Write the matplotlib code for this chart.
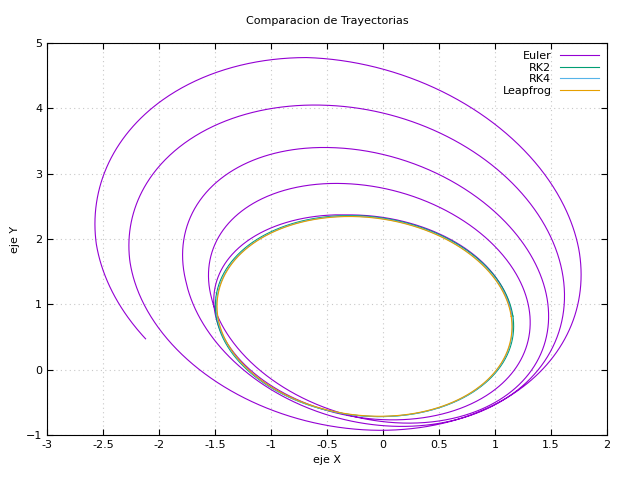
import numpy as np
import matplotlib
matplotlib.use("Agg")
import matplotlib.pyplot as plt

# Per-loop extents (Euler spiral, inner -> outer)
loop_left   = [-1.50, -1.53, -1.76, -2.26, -2.56]
loop_right  = [ 1.15,  1.30,  1.45,  1.60,  1.75]
loop_top    = [ 2.37,  2.85,  3.40,  4.05,  4.78]
loop_bottom = [-0.72, -0.77, -0.82, -0.87, -0.93]
loop_topx   = [-0.30, -0.35, -0.45, -0.52, -0.68]
euler_end_turn = 4.585   # ends near (-2, 0.25)

# Closed orbit (RK2, RK4, Leapfrog): left, right, top, bottom, x at top
orbit = {"RK2": (-1.49, 1.16, 2.36, -0.72, -0.30),
         "RK4": (-1.48, 1.15, 2.35, -0.72, -0.30),
         "Leapfrog": (-1.475, 1.145, 2.345, -0.715, -0.30)}
colors = {"Euler": "#9400D3", "RK2": "#009E73", "RK4": "#56B4E9", "Leapfrog": "#E69F00"}

def curve(f, L, R, T, B, TX):
    th = 2 * np.pi * f
    cx, cy = (L + R) / 2, (T + B) / 2
    a, b = (R - L) / 2, (T - B) / 2
    return cx + a * np.cos(th) + (TX - cx) * np.sin(th), cy + b * np.sin(th)

plt.rcParams['font.family'] = ['DejaVu Sans']
fig = plt.figure(figsize=(6.27, 4.8), dpi=100)
ax = fig.add_axes([0.075, 0.094, 0.893, 0.816])

f = np.linspace(0, euler_end_turn, 4000)
k = np.arange(5)
params = [np.interp(f, k + 0.5, loop_left),
          np.interp(f, k + 0.0, loop_right),
          np.interp(f, k + 0.25, loop_top),
          np.interp(f, k - 0.25, loop_bottom),
          np.interp(f, k + 0.25, loop_topx)]
x, y = curve(f, *params)
ax.plot(x, y, color=colors["Euler"], lw=0.8, label="Euler")

fo = np.linspace(0, 1, 600)
for name, p in orbit.items():
    xo, yo = curve(fo, *p)
    ax.plot(xo, yo, color=colors[name], lw=0.8, label=name)

ax.set_xlim(-3, 2)
ax.set_ylim(-1, 5)
ax.set_xticks(np.arange(-3, 2.01, 0.5))
ax.set_xticklabels(["-3", "-2.5", "-2", "-1.5", "-1", "-0.5", "0", "0.5", "1", "1.5", "2"])
ax.set_yticks(range(-1, 6))
ax.tick_params(direction='in', top=True, right=True, labelsize=8, length=4)
ax.grid(True, color='#c8c8c8', linestyle=(0, (1, 3)), lw=0.8)
ax.set_xlabel("eje X", fontsize=8)
ax.set_ylabel("eje Y", fontsize=8)
ax.set_title("Comparacion de Trayectorias", fontsize=8, pad=14)
ax.legend(loc='upper right', frameon=False, markerfirst=False, fontsize=8,
          handlelength=3.5, labelspacing=0.15, borderaxespad=0.3)
fig.savefig("out.png", dpi=100)
